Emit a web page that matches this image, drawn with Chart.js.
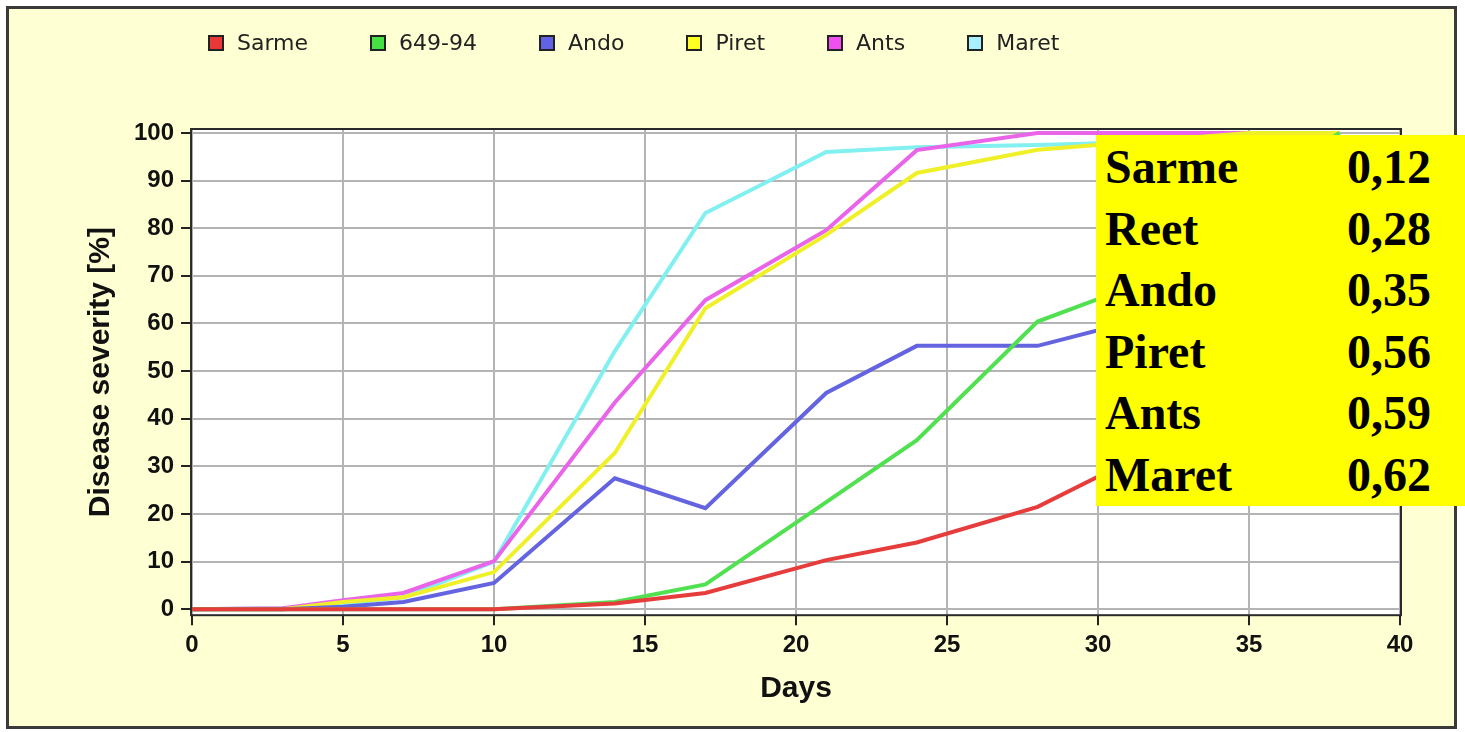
<!DOCTYPE html>
<html>
<head>
<meta charset="utf-8">
<title>Disease severity</title>
<script src="https://cdn.jsdelivr.net/npm/chart.js@4.4.1/dist/chart.umd.min.js"></script>
<style>
  html, body { margin: 0; padding: 0; background: #fff; }
  #wrap { position: relative; width: 1465px; height: 732px; overflow: hidden; }
  #frame {
    position: absolute; left: 6px; top: 6px; width: 1445px; height: 717px;
    border: 3px solid #3a3a3a; background: #ffffd4;
  }
  #chart { position: absolute; left: 0; top: 0; }
  #legend {
    position: absolute; left: 208px; top: 32px; display: flex; gap: 62px;
    font: 22px "DejaVu Sans", sans-serif; color: #222; line-height: 1;
  }
  #legend .item { display: flex; align-items: center; }
  #legend .box {
    width: 16px; height: 16px; box-sizing: border-box; border: 2px solid #222;
    margin-right: 13px;
  }
  #note {
    position: absolute; left: 1096px; top: 135px; width: 369px; height: 371px;
    background: #ffff00; box-sizing: border-box; padding: 1px 34px 0 9px;
    font: bold 48px "Liberation Serif", "Times New Roman", serif; color: #000;
    line-height: 61.6px;
  }
  #note .row { display: flex; justify-content: space-between; }
</style>
</head>
<body>
<div id="wrap">
  <div id="frame"></div>
  <canvas id="chart" width="1465" height="732"></canvas>
  <div id="legend"></div>
  <div id="note"></div>
</div>
<script>
  // days of assessment
  const days = [0, 3, 5, 7, 10, 14, 17, 21, 24, 28, 31, 35, 38];

  const seriesNames = ["Sarme", "649-94", "Ando", "Piret", "Ants", "Maret"];

  const sarme = [0, 0, 0, 0, 0, 1.2, 3.4, 10.3, 14, 21.5, 31, 41, 49];
  const line649 = [0, 0, 0, 0, 0, 1.5, 5.2, 22.5, 35.5, 60.4, 67.5, 88, 100];
  const ando = [0, 0, 0.5, 1.5, 5.5, 27.5, 21.2, 45.4, 55.3, 55.3, 60.2, 66, 70];
  const piret = [0, 0, 1.5, 2.5, 7.8, 32.8, 63.2, 78.6, 91.6, 96.5, 98, 100, 100];
  const ants = [0, 0.2, 1.9, 3.4, 10.1, 43.4, 64.9, 79.6, 96.4, 100, 100, 100, 100];
  const maret = [0, 0.2, 1.2, 2.5, 10, 54.2, 83.2, 96, 97, 97.5, 98, 99, 100];

  const seriesValues = [sarme, line649, ando, piret, ants, maret];

  const lineColors = ["#e63c3c", "#50e050", "#6464e0", "#f0f028", "#ea64ea", "#82f0f0"];
  const boxColors = ["#e83838", "#44e044", "#6262e4", "#ffff22", "#f050f0", "#a8f0ff"];

  const yTicks = { min: -1.26, max: 100.84, step: 10 };
  const xTicks = { min: 0, max: 40, step: 5 };

  // AUDPC table on the right
  const noteNames = ["Sarme", "Reet", "Ando", "Piret", "Ants", "Maret"];
  const noteValues = ["0,12", "0,28", "0,35", "0,56", "0,59", "0,62"];

  const legendEl = document.getElementById("legend");
  seriesNames.forEach((name, i) => {
    const item = document.createElement("div");
    item.className = "item";
    const box = document.createElement("span");
    box.className = "box";
    box.style.background = boxColors[i];
    const label = document.createElement("span");
    label.textContent = name;
    item.appendChild(box);
    item.appendChild(label);
    legendEl.appendChild(item);
  });

  const noteEl = document.getElementById("note");
  noteNames.forEach((name, i) => {
    const row = document.createElement("div");
    row.className = "row";
    const a = document.createElement("span");
    a.textContent = name;
    const b = document.createElement("span");
    b.textContent = noteValues[i];
    row.appendChild(a);
    row.appendChild(b);
    noteEl.appendChild(row);
  });

  // white plot background + dark frame round the plot area
  const plotFrame = {
    id: "plotFrame",
    beforeDraw(chart) {
      const { ctx, chartArea: a } = chart;
      ctx.save();
      ctx.fillStyle = "#ffffff";
      ctx.fillRect(a.left, a.top, a.width, a.height);
      ctx.restore();
    },
    afterDatasetsDraw(chart) {
      const { ctx, chartArea: a } = chart;
      ctx.save();
      ctx.strokeStyle = "#2a2a2a";
      ctx.lineWidth = 2;
      ctx.strokeRect(a.left - 1, a.top, a.width + 2, a.height);
      ctx.restore();
    },
  };

  Chart.defaults.font.family = "'Liberation Sans', Arial, sans-serif";

  const datasets = seriesNames.map((name, i) => ({
    label: name,
    data: days.map((d, j) => ({ x: d, y: seriesValues[i][j] })),
    borderColor: lineColors[i],
    backgroundColor: boxColors[i],
    borderWidth: 4,
    pointRadius: 0,
    tension: 0,
    fill: false,
  }));

  new Chart(document.getElementById("chart").getContext("2d"), {
    type: "line",
    data: { datasets },
    plugins: [plotFrame],
    options: {
      responsive: false,
      animation: false,
      devicePixelRatio: 1,
      layout: { padding: { left: 83, top: 129, right: 65, bottom: 21 } },
      plugins: { legend: { display: false }, tooltip: { enabled: false } },
      scales: {
        x: {
          type: "linear",
          min: xTicks.min,
          max: xTicks.max,
          ticks: {
            stepSize: xTicks.step,
            color: "#111",
            padding: 6,
            font: { size: 24, weight: "bold" },
          },
          grid: {
            color: "#b4b4b4",
            lineWidth: 2,
            tickColor: "#222",
            tickLength: 10,
            tickWidth: 2,
          },
          border: { display: false },
          title: {
            display: true,
            text: "Days",
            color: "#111",
            font: { size: 30, weight: "bold" },
            padding: { top: 5, bottom: 4 },
          },
        },
        y: {
          type: "linear",
          min: yTicks.min,
          max: yTicks.max,
          ticks: {
            stepSize: yTicks.step,
            includeBounds: false,
            color: "#111",
            padding: 7,
            font: { size: 24, weight: "bold" },
          },
          grid: {
            color: "#b4b4b4",
            lineWidth: 2,
            tickColor: "#222",
            tickLength: 11,
            tickWidth: 2,
          },
          border: { display: false },
          title: {
            display: true,
            text: "Disease severity [%]",
            color: "#111",
            font: { size: 30, weight: "bold" },
            padding: { top: 0, bottom: 8 },
          },
        },
      },
    },
  });
</script>
</body>
</html>
